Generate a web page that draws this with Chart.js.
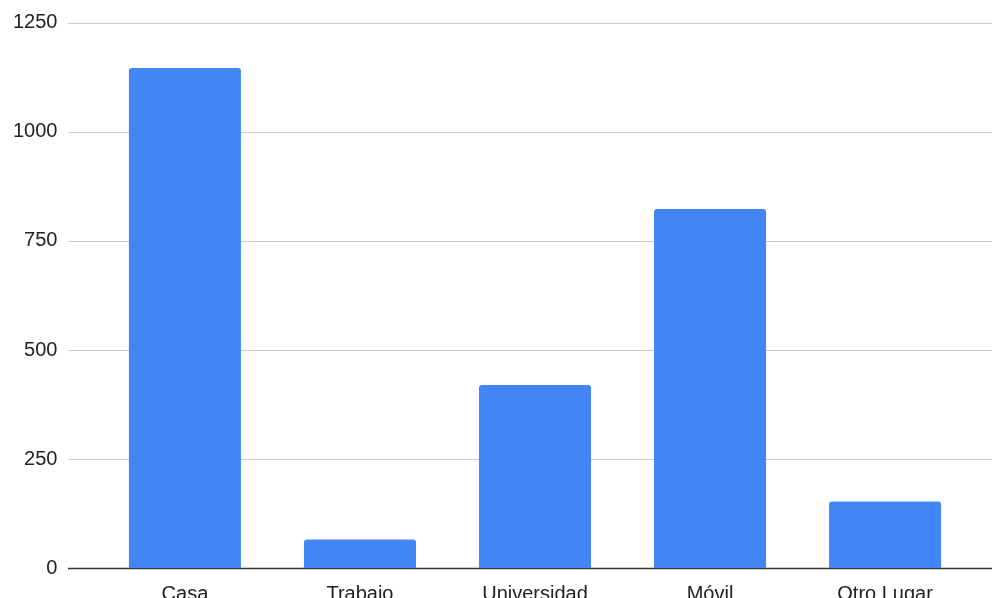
<!DOCTYPE html>
<html>
<head>
<meta charset="utf-8">
<script src="https://cdn.jsdelivr.net/npm/chart.js@4"></script>
<style>
  html, body { margin: 0; padding: 0; background: #fff; overflow: hidden; }
  canvas { display: block; }
</style>
</head>
<body>
<canvas id="c" width="992" height="598" style="width:992px;height:598px"></canvas>
<script>
const categories = ["Casa", "Trabajo", "Universidad", "Móvil", "Otro Lugar"];
const values = [1146, 66, 420, 823, 153];
const yTicks = [0, 250, 500, 750, 1000, 1250];

const gridExtend = {
  id: 'gridExtend',
  beforeDatasetsDraw(chart) {
    const ctx = chart.ctx;
    const y = chart.scales.y;
    ctx.save();
    yTicks.forEach(v => {
      const py = Math.round(y.getPixelForValue(v)) + 0.5;
      ctx.beginPath();
      ctx.strokeStyle = v === 0 ? '#333333' : '#cccccc';
      ctx.lineWidth = v === 0 ? 1.3 : 1.2;
      ctx.moveTo(68, py);
      ctx.lineTo(chart.width, py);
      ctx.stroke();
    });
    ctx.restore();
  }
};

new Chart(document.getElementById('c'), {
  type: 'bar',
  data: {
    labels: categories,
    datasets: [{
      data: values,
      backgroundColor: '#4285F4',
      borderRadius: { topLeft: 3, topRight: 3, bottomLeft: 0, bottomRight: 0 },
      borderSkipped: 'bottom',
      categoryPercentage: 1.0,
      barPercentage: 0.64
    }]
  },
  options: {
    responsive: false,
    maintainAspectRatio: false,
    animation: false,
    devicePixelRatio: 1,
    layout: { padding: { top: 22.7, right: 19.4, bottom: 0, left: 0 } },
    plugins: { legend: { display: false }, tooltip: { enabled: false } },
    scales: {
      x: {
        grid: { display: false },
        border: { display: false },
        ticks: {
          color: '#222222',
          font: { family: 'Liberation Sans, Arial, sans-serif', size: 20 },
          padding: 6,
          maxRotation: 0,
          autoSkip: false
        },
        afterFit(s) { s.height = 29.7; s.paddingLeft = 0; s.paddingRight = 0; }
      },
      y: {
        min: 0,
        max: 1250,
        afterBuildTicks(s) { s.ticks = yTicks.map(v => ({ value: v })); },
        grid: { display: false },
        border: { display: false },
        ticks: {
          color: '#222222',
          font: { family: 'Liberation Sans, Arial, sans-serif', size: 20 },
          padding: 32,
          callback: (v) => String(v)
        },
        afterFit(s) { s.width = 97.4; s.paddingTop = 0; s.paddingBottom = 0; }
      }
    }
  },
  plugins: [gridExtend]
});
</script>
</body>
</html>
